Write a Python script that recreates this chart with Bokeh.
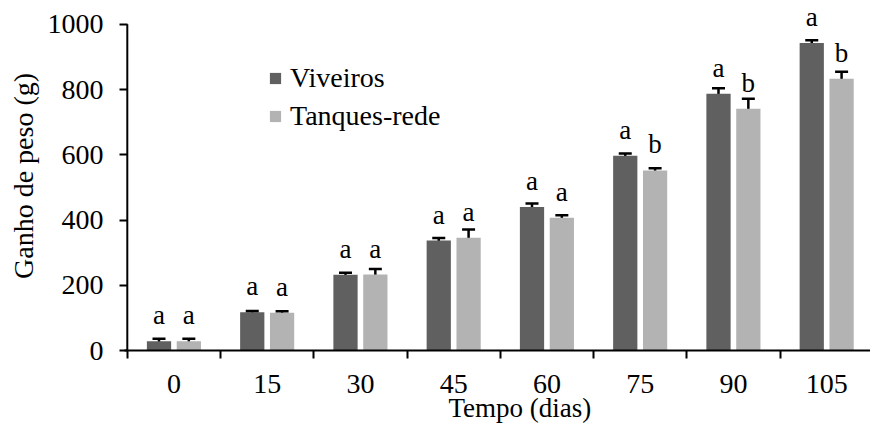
from bokeh.plotting import figure
from bokeh.models import ColumnDataSource, FixedTicker, Range1d, Whisker, TeeHead, Legend, LegendItem, Title
from bokeh.core.properties import value
from bokeh.embed import file_html
from bokeh.resources import INLINE

categories = ["0", "15", "30", "45", "60", "75", "90", "105"]
viveiros = [28, 117, 232, 337, 440, 597, 787, 943]
viveiros_err = [8, 4, 6, 8, 11, 7, 17, 8]
tanques = [28, 116, 233, 346, 407, 552, 741, 833]
tanques_err = [8, 4, 17, 25, 8, 7, 31, 22]
letters_v = ["a", "a", "a", "a", "a", "a", "a", "a"]
letters_t = ["a", "a", "a", "a", "a", "b", "b", "b"]
y_ticks = [0, 200, 400, 600, 800, 1000]

FONT = "Liberation Serif"
FS = "28px"
DARK = "#606060"
LIGHT = "#b3b3b3"
OFF = 0.16
BW = 0.26

n = len(categories)
centers = [i + 0.5 for i in range(n)]

src_v = ColumnDataSource(dict(
    x=[c - OFF for c in centers], top=viveiros,
    upper=[v + e for v, e in zip(viveiros, viveiros_err)],
    lower=[v - e for v, e in zip(viveiros, viveiros_err)],
    lab=letters_v))
src_t = ColumnDataSource(dict(
    x=[c + OFF for c in centers], top=tanques,
    upper=[v + e for v, e in zip(tanques, tanques_err)],
    lower=[v - e for v, e in zip(tanques, tanques_err)],
    lab=letters_t))

p = figure(width=870, height=423, output_backend="svg", toolbar_location=None,
           x_range=Range1d(-0.03, 7.97), y_range=Range1d(0, 1070),
           min_border_left=124, min_border_right=0, min_border_top=1, min_border_bottom=73)
p.outline_line_color = None
p.grid.visible = False
p.background_fill_color = "white"
p.border_fill_color = "white"

r1 = p.vbar(x="x", top="top", width=BW, source=src_v, fill_color=DARK, line_color=None)
r2 = p.vbar(x="x", top="top", width=BW, source=src_t, fill_color=LIGHT, line_color=None)

for src in (src_v, src_t):
    w = Whisker(base="x", upper="upper", lower="lower", source=src,
                line_color="black", line_width=2.5,
                upper_head=TeeHead(size=13, line_width=2.5, line_color="black"),
                lower_head=TeeHead(size=13, line_width=2.5, line_color="black"))
    p.add_layout(w)
    p.text(x="x", y="top", text="lab", source=src, text_align="center",
           text_baseline="alphabetic", y_offset=-26,
           text_font=value(FONT), text_font_size="27px", text_color="black")

# y axis line from 0 to the top tick only
p.segment(x0=[0], y0=[y_ticks[0]], x1=[0], y1=[y_ticks[-1]], line_color="black", line_width=2)

# x axis
xa = p.xaxis[0]
xa.ticker = FixedTicker(ticks=centers, minor_ticks=list(range(n + 1)))
xa.major_label_overrides = {c: lab for c, lab in zip(centers, categories)}
xa.major_tick_out = 0
xa.major_tick_in = 0
xa.minor_tick_out = 8
xa.minor_tick_in = 0
xa.minor_tick_line_color = "black"
xa.minor_tick_line_width = 2
xa.axis_line_color = "black"
xa.axis_line_width = 2
xa.major_label_text_font = FONT
xa.major_label_text_font_size = FS
xa.major_label_text_color = "black"
xa.major_label_standoff = 16

# y axis
ya = p.yaxis[0]
ya.ticker = FixedTicker(ticks=y_ticks)
ya.minor_tick_line_color = None
ya.major_tick_out = 5
ya.major_tick_in = 3
ya.major_tick_line_color = "black"
ya.major_tick_line_width = 2
ya.axis_line_color = None
ya.major_label_text_font = FONT
ya.major_label_text_font_size = FS
ya.major_label_text_color = "black"
ya.major_label_standoff = 16
ya.axis_label = "Ganho de peso (g)"
ya.axis_label_text_font = FONT
ya.axis_label_text_font_size = FS
ya.axis_label_text_font_style = "normal"
ya.axis_label_text_color = "black"
ya.axis_label_standoff = 6

# x axis title (shifted right as in the original)
p.add_layout(Title(text="Tempo (dias)", align="left", offset=324, standoff=-9,
                   text_font=FONT, text_font_size="27px", text_font_style="normal",
                   text_color="black"), "below")

legend = Legend(items=[LegendItem(label="Viveiros", renderers=[r1]),
                       LegendItem(label="Tanques-rede", renderers=[r2])],
                location=(144, 218), glyph_width=14, glyph_height=14,
                label_standoff=8, spacing=6, padding=0, margin=0,
                label_text_font=FONT, label_text_font_size=FS,
                label_text_color="black", border_line_color=None,
                background_fill_alpha=0)
p.add_layout(legend)

open("out.html", "w").write(file_html(p, INLINE))
